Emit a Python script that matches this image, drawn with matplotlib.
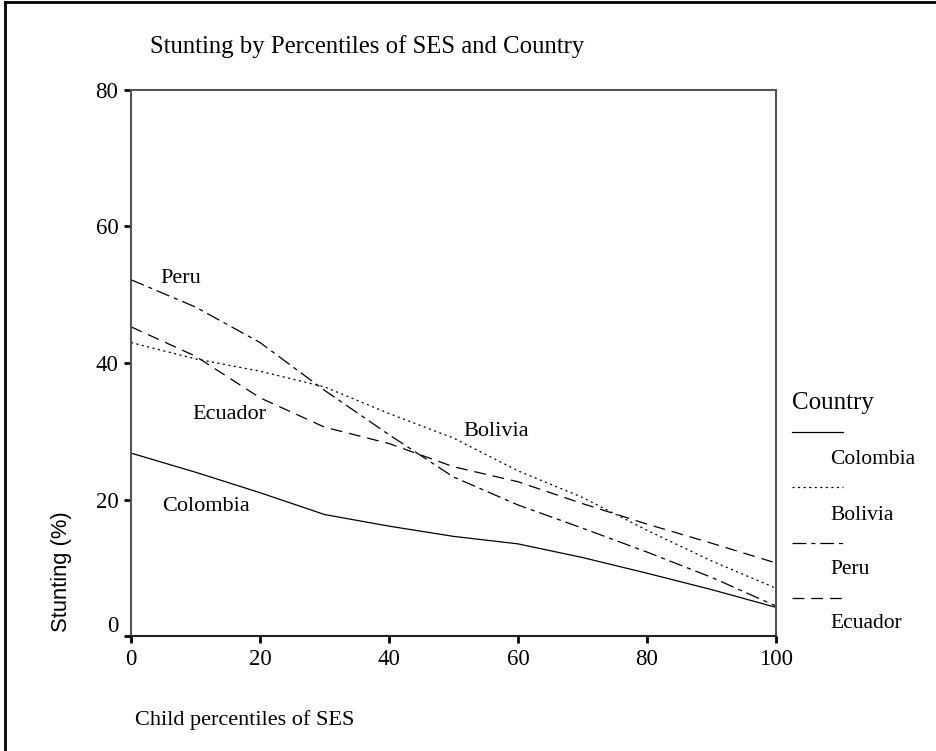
import matplotlib
matplotlib.use("Agg")
import matplotlib.pyplot as plt
from matplotlib.lines import Line2D
import matplotlib.transforms as mtransforms

plt.rcParams['lines.scale_dashes'] = False

# percentile of SES
pct = [0, 10, 20, 30, 40, 50, 60, 70, 80, 90, 100]

colombia = [26.8, 24.0, 21.0, 17.8, 16.1, 14.6, 13.5, 11.5, 9.2, 6.8, 4.2]
bolivia = [43.0, 40.6, 38.8, 36.5, 32.6, 29.0, 24.2, 20.3, 15.5, 11.0, 7.0]
peru = [52.2, 48.2, 43.0, 36.0, 29.5, 23.3, 19.2, 15.8, 12.3, 8.6, 4.4]
ecuador = [45.3, 41.0, 34.9, 30.6, 28.2, 24.8, 22.6, 19.4, 16.4, 13.6, 10.7]

countries = ["Colombia", "Bolivia", "Peru", "Ecuador"]
series = [colombia, bolivia, peru, ecuador]
dashes = [None, (1.5, 2.5), (10, 3.5, 3, 3.5), (8.5, 5)]

serif = "Liberation Serif"
sans = "Liberation Sans"

fig = plt.figure(figsize=(9.37, 7.51), dpi=100)
ax = fig.add_axes([0.1398, 0.1531, 0.6884, 0.7271])

for vals, d in zip(series, dashes):
    if d is None:
        ax.plot(pct, vals, color="black", lw=0.9)
    else:
        ax.plot(pct, vals, color="black", lw=0.9, dashes=d)

ax.set_xlim(0, 100)
ax.set_ylim(0, 80)
ax.set_xticks([0, 20, 40, 60, 80, 100])
ax.set_yticks([0, 20, 40, 60, 80])
ax.tick_params(direction="out", length=5, width=2, color="black",
               labelsize=16.5, pad=4)
for lab in ax.get_xticklabels() + ax.get_yticklabels():
    lab.set_fontfamily(serif)
# the "0" on the y axis sits a bit above its tick
zero = ax.get_yticklabels()[0]
zero.set_transform(zero.get_transform() +
                   mtransforms.ScaledTranslation(0, 12 / 100, fig.dpi_scale_trans))
for s in ax.spines.values():
    s.set_color("#555555")
    s.set_linewidth(1.5)
ax.spines["bottom"].set_color("#222222")

# in-plot labels
ax.text(4.5, 52.4, "Peru", fontfamily=serif, fontsize=16, va="center")
ax.text(9.5, 32.4, "Ecuador", fontfamily=serif, fontsize=16, va="center")
ax.text(51.5, 29.9, "Bolivia", fontfamily=serif, fontsize=16, va="center")
ax.text(4.8, 19.0, "Colombia", fontfamily=serif, fontsize=16, va="center")

# titles
fig.text(0.160, 1 - 47 / 751, "Stunting by Percentiles of SES and Country",
         fontfamily=serif, fontsize=17.8, va="center", ha="left")
fig.text(0.144, 1 - 720 / 751, "Child percentiles of SES",
         fontfamily=serif, fontsize=16, va="center", ha="left")
fig.text(62 / 937, 1 - 572 / 751, "Stunting (%)", fontfamily=sans,
         fontsize=15.8, rotation=90, va="center", ha="center")

# legend
fig.text(792 / 937, 1 - 403 / 751, "Country", fontfamily=serif,
         fontsize=18, va="center", ha="left")
handle_y = [432, 487, 543, 598]
text_y = [460, 515, 570, 623]
for name, d, hy, ty in zip(countries, dashes, handle_y, text_y):
    ln = Line2D([792 / 937, 843 / 937], [1 - hy / 751, 1 - hy / 751],
                transform=fig.transFigure, color="black", lw=0.9)
    if d is not None:
        ln.set_dashes(d)
    fig.add_artist(ln)
    fig.text(830 / 937, 1 - ty / 751, name, fontfamily=serif, fontsize=15.5,
             va="center", ha="left")

# outer frame
fig.add_artist(Line2D([0.005, 0.005], [0.0, 0.997], transform=fig.transFigure,
                      color="black", lw=2))
fig.add_artist(Line2D([0.005, 1.0], [0.997, 0.997], transform=fig.transFigure,
                      color="black", lw=2))

fig.savefig("out.png", dpi=100)
